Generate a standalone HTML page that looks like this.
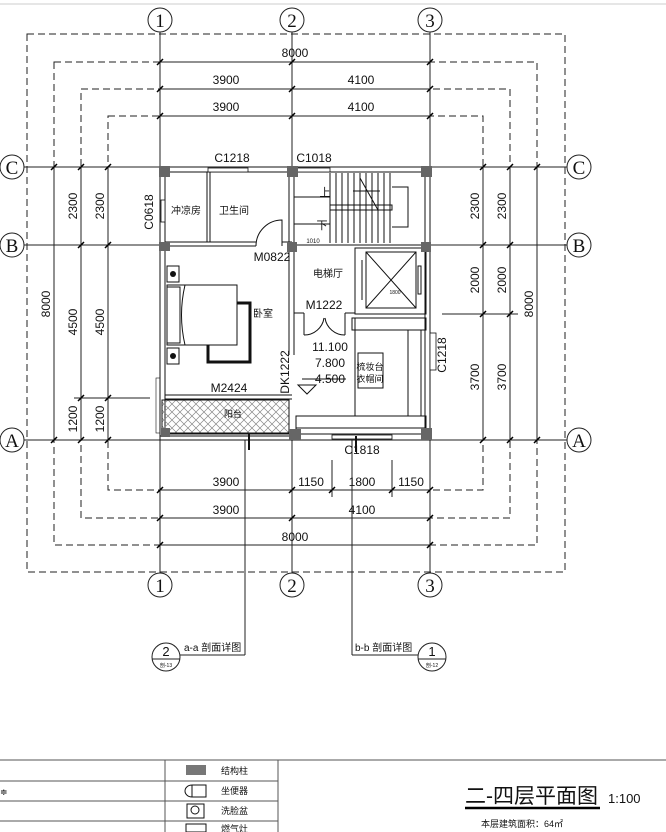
<!DOCTYPE html>
<html><head><meta charset="utf-8"><style>
html,body{margin:0;padding:0;background:#fff}
svg{display:block}
text{font-family:"Liberation Sans","Noto Sans CJK SC",sans-serif;fill:#111}
.ser{font-family:"Liberation Serif",serif}
.nar{font-family:"Liberation Sans Narrow","Liberation Sans",sans-serif}
</style></head><body>
<svg width="666" height="832" viewBox="0 0 666 832" xmlns="http://www.w3.org/2000/svg">
<defs>
<pattern id="hat" width="8" height="8" patternUnits="userSpaceOnUse">
<path d="M0 0L8 8M8 0L0 8" stroke="#888" stroke-width="0.7"/>
</pattern>
</defs>
<line x1="0" y1="4" x2="666" y2="4" stroke="#ccc"/>
<g fill="none" stroke="#222" stroke-width="1" stroke-dasharray="7,4">
<rect x="27" y="34" width="538" height="538"/>
<rect x="54" y="62" width="483" height="483"/>
<rect x="81" y="89" width="429" height="429"/>
<rect x="108" y="116" width="375" height="374"/>
</g>
<g stroke="#222" stroke-width="1">
<line x1="160" y1="32" x2="160" y2="573"/>
<line x1="292" y1="32" x2="292" y2="573"/>
<line x1="430" y1="32" x2="430" y2="573"/>
<line x1="24" y1="167" x2="567" y2="167"/>
<line x1="24" y1="245" x2="567" y2="245"/>
<line x1="24" y1="440" x2="567" y2="440"/>
<line x1="160" y1="62" x2="430" y2="62"/>
<line x1="160" y1="89" x2="430" y2="89"/>
<line x1="160" y1="116" x2="430" y2="116"/>
<line x1="160" y1="490" x2="430" y2="490"/>
<line x1="160" y1="518" x2="430" y2="518"/>
<line x1="160" y1="545" x2="430" y2="545"/>
<line x1="54" y1="167" x2="54" y2="440"/>
<line x1="81" y1="167" x2="81" y2="440"/>
<line x1="108" y1="167" x2="108" y2="440"/>
<line x1="483" y1="167" x2="483" y2="440"/>
<line x1="510" y1="167" x2="510" y2="440"/>
<line x1="537" y1="167" x2="537" y2="440"/>
<line x1="74" y1="398" x2="150" y2="398"/>
<line x1="442" y1="314" x2="518" y2="314"/>
<line x1="332" y1="460" x2="332" y2="497"/>
<line x1="392" y1="460" x2="392" y2="497"/>
<line x1="245" y1="435" x2="245" y2="655"/>
<line x1="245" y1="655" x2="180" y2="655"/>
<line x1="352" y1="435" x2="352" y2="655"/>
<line x1="352" y1="655" x2="418" y2="655"/>
</g>
<g stroke="#000" stroke-width="1.5">
<path d="M157 65l6-6M289 65l6-6M427 65l6-6M157 92l6-6M289 92l6-6M427 92l6-6M157 119l6-6M289 119l6-6M427 119l6-6"/>
<path d="M157 493l6-6M289 493l6-6M329 493l6-6M389 493l6-6M427 493l6-6M157 521l6-6M289 521l6-6M427 521l6-6M157 548l6-6M427 548l6-6"/>
<path d="M51 170l6-6M51 443l6-6M78 170l6-6M78 248l6-6M78 401l6-6M78 443l6-6M105 170l6-6M105 248l6-6M105 401l6-6M105 443l6-6"/>
<path d="M480 170l6-6M480 248l6-6M480 317l6-6M480 443l6-6M507 170l6-6M507 248l6-6M507 317l6-6M507 443l6-6M534 170l6-6M534 443l6-6"/>
</g>
<g fill="#fff" stroke="#222" stroke-width="1">
<circle cx="160" cy="20" r="12"/><circle cx="292" cy="20" r="12"/><circle cx="430" cy="20" r="12"/>
<circle cx="160" cy="585" r="12"/><circle cx="292" cy="585" r="12"/><circle cx="430" cy="585" r="12"/>
<circle cx="12" cy="167" r="12"/><circle cx="12" cy="245" r="12"/><circle cx="12" cy="440" r="12"/>
<circle cx="579" cy="167" r="12"/><circle cx="579" cy="245" r="12"/><circle cx="579" cy="440" r="12"/>
</g>
<g class="ser" font-size="19" text-anchor="middle">
<text class="ser" x="160" y="27">1</text><text class="ser" x="292" y="27">2</text><text class="ser" x="430" y="27">3</text>
<text class="ser" x="160" y="592">1</text><text class="ser" x="292" y="592">2</text><text class="ser" x="430" y="592">3</text>
<text class="ser" x="12" y="174">C</text><text class="ser" x="12" y="252">B</text><text class="ser" x="12" y="447">A</text>
<text class="ser" x="579" y="174">C</text><text class="ser" x="579" y="252">B</text><text class="ser" x="579" y="447">A</text>
</g>
<g font-size="12" text-anchor="middle">
<text class="nar" x="295" y="57">8000</text>
<text class="nar" x="226" y="84">3900</text><text class="nar" x="361" y="84">4100</text>
<text class="nar" x="226" y="111">3900</text><text class="nar" x="361" y="111">4100</text>
<text class="nar" x="226" y="486">3900</text><text class="nar" x="311" y="486">1150</text><text class="nar" x="362" y="486">1800</text><text class="nar" x="411" y="486">1150</text>
<text class="nar" x="226" y="514">3900</text><text class="nar" x="362" y="514">4100</text>
<text class="nar" x="295" y="541">8000</text>
<text class="nar" transform="translate(50,304) rotate(-90)">8000</text>
<text class="nar" transform="translate(77,206) rotate(-90)">2300</text>
<text class="nar" transform="translate(104,206) rotate(-90)">2300</text>
<text class="nar" transform="translate(77,322) rotate(-90)">4500</text>
<text class="nar" transform="translate(104,322) rotate(-90)">4500</text>
<text class="nar" transform="translate(77,419) rotate(-90)">1200</text>
<text class="nar" transform="translate(104,419) rotate(-90)">1200</text>
<text class="nar" transform="translate(479,206) rotate(-90)">2300</text>
<text class="nar" transform="translate(506,206) rotate(-90)">2300</text>
<text class="nar" transform="translate(479,280) rotate(-90)">2000</text>
<text class="nar" transform="translate(506,280) rotate(-90)">2000</text>
<text class="nar" transform="translate(533,304) rotate(-90)">8000</text>
<text class="nar" transform="translate(479,377) rotate(-90)">3700</text>
<text class="nar" transform="translate(506,377) rotate(-90)">3700</text>
</g>
<rect x="160" y="167" width="270" height="273" fill="#fff" stroke="none"/>
<g fill="none" stroke="#111" stroke-width="1">
<rect x="160" y="167" width="270" height="273"/>
<rect x="165" y="172" width="260" height="262"/>
<line x1="207" y1="172" x2="207" y2="242"/><line x1="210" y1="172" x2="210" y2="242"/>
<line x1="165" y1="242" x2="256" y2="242"/><line x1="165" y1="246" x2="256" y2="246"/>
<line x1="282" y1="242" x2="292" y2="242"/>
<line x1="289" y1="172" x2="289" y2="355"/><line x1="294" y1="172" x2="294" y2="355"/>
<line x1="294" y1="245" x2="426" y2="245"/>
<path d="M256 246 A26 26 0 0 1 282 220 L282 246"/>
<line x1="165" y1="395" x2="292" y2="395"/><line x1="165" y1="399" x2="292" y2="399"/>
<rect x="330" y="205" width="62" height="5"/>
<line x1="294" y1="197" x2="330" y2="197"/>
<line x1="294" y1="224" x2="330" y2="224"/>
<path d="M330 173V243M336 173V243M342 173V243M348 173V243M354 173V243M360 173V243M366 173V243M372 173V243M378 173V243M384 173V243M390 173V243"/>
<path d="M392 187H408V227H392"/>
<path d="M360 178L378 210M353 191H380"/>
<rect x="355" y="248" width="71" height="66"/>
<rect x="366" y="252" width="50" height="56"/>
<path d="M366 252L416 308M416 252L366 308"/>
<rect x="418" y="266" width="3" height="28"/>
<line x1="362" y1="260" x2="362" y2="300"/>
<path d="M304 313V335M345 313V335M294 313H304M345 313H355"/>
<path d="M304 335A20 20 0 0 0 324 318M345 335A20 20 0 0 1 325 318"/>
<rect x="352" y="318" width="74" height="12"/>
<rect x="408" y="330" width="13" height="86"/>
<rect x="296" y="416" width="130" height="12"/>
<line x1="355" y1="318" x2="355" y2="416"/>
<line x1="296" y1="416" x2="296" y2="434"/>
<rect x="358" y="353" width="25" height="35"/>
<rect x="167" y="285" width="70" height="60" fill="#fff"/>
<rect x="167" y="287" width="13" height="56"/>
<path d="M185 285Q178 315 185 345"/>
<rect x="167" y="266" width="12" height="16"/><rect x="167" y="348" width="12" height="16"/>
<path d="M237 303H250V362H208V345" stroke-width="3"/>
<path d="M298 385H316L307 394Z"/>
<line x1="302" y1="379" x2="346" y2="379"/>
</g>
<circle cx="173" cy="274" r="3" fill="#111"/><circle cx="173" cy="356" r="3" fill="#111"/>
<g fill="#fff" stroke="#111" stroke-width="0.8">
<rect x="208" y="168" width="40" height="4"/>
<rect x="297" y="168" width="33" height="4"/>
<rect x="161" y="200" width="4" height="22"/>
<rect x="430" y="333" width="6" height="37"/>
<rect x="332" y="435" width="60" height="4"/>
</g>
<rect x="162" y="400" width="127" height="33" fill="url(#hat)" stroke="#111" stroke-width="1"/>
<line x1="160" y1="436" x2="292" y2="436" stroke="#111"/>
<rect x="156" y="378" width="4" height="55" fill="none" stroke="#111" stroke-width="0.6"/>
<line x1="249" y1="433" x2="249" y2="450" stroke="#111" stroke-width="2"/>
<line x1="356" y1="436" x2="356" y2="452" stroke="#111" stroke-width="2"/>
<g fill="#666">
<rect x="159" y="166" width="11" height="11"/><rect x="287" y="166" width="11" height="11"/><rect x="421" y="166" width="11" height="11"/>
<rect x="159" y="242" width="11" height="9"/><rect x="287" y="242" width="10" height="10"/><rect x="421" y="242" width="10" height="10"/>
<rect x="161" y="428" width="9" height="9"/><rect x="289" y="429" width="12" height="11"/><rect x="421" y="428" width="11" height="12"/>
</g>
<g font-size="10" text-anchor="middle">
<text x="186" y="214">冲凉房</text>
<text x="234" y="214">卫生间</text>
<text x="328" y="277">电梯厅</text>
<text x="263" y="317">卧室</text>
<text x="233" y="417" font-size="9" fill="#333">阳台</text>
<text x="370" y="370" font-size="9">梳妆台</text>
<text x="370" y="382" font-size="9">衣帽间</text>
</g>
<g font-size="12" text-anchor="middle">
<text class="nar" x="232" y="162">C1218</text>
<text class="nar" x="314" y="162">C1018</text>
<text class="nar" x="272" y="261">M0822</text>
<text class="nar" x="324" y="309">M1222</text>
<text class="nar" x="330" y="351">11.100</text>
<text class="nar" x="330" y="367">7.800</text>
<text class="nar" x="330" y="383">4.500</text>
<text class="nar" x="229" y="392">M2424</text>
<text class="nar" x="362" y="454">C1818</text>
<text class="nar" transform="translate(153,212) rotate(-90)">C0618</text>
<text class="nar" transform="translate(446,355) rotate(-90)">C1218</text>
<text class="nar" transform="translate(289,372) rotate(-90)">DK1222</text>
</g>
<text x="325" y="196" font-size="11" text-anchor="middle">上</text>
<text x="322" y="229" font-size="11" text-anchor="middle">下</text>
<text x="313" y="243" font-size="6" text-anchor="middle">1010</text>
<text x="395" y="294" font-size="5" text-anchor="middle">1800</text>
<g fill="#fff" stroke="#222" stroke-width="1">
<circle cx="166" cy="657" r="14"/><circle cx="432" cy="657" r="14"/>
<line x1="152" y1="659" x2="180" y2="659"/><line x1="418" y1="659" x2="446" y2="659"/>
</g>
<text x="166" y="656" font-size="13" text-anchor="middle">2</text>
<text x="166" y="667" font-size="5" text-anchor="middle">剖-13</text>
<text x="432" y="656" font-size="13" text-anchor="middle">1</text>
<text x="432" y="667" font-size="5" text-anchor="middle">剖-12</text>
<text x="184" y="651" font-size="10">a-a 剖面详图</text>
<text x="355" y="651" font-size="10">b-b 剖面详图</text>
<g stroke="#555" stroke-width="1" fill="none">
<line x1="0" y1="760" x2="666" y2="760"/>
<line x1="0" y1="781" x2="278" y2="781"/>
<line x1="0" y1="801" x2="278" y2="801"/>
<line x1="0" y1="821" x2="278" y2="821"/>
<line x1="165" y1="760" x2="165" y2="832"/>
<line x1="278" y1="760" x2="278" y2="832"/>
</g>
<rect x="186" y="765" width="20" height="10" fill="#777"/>
<path d="M192 785H206V797H192ZM192 785A7 6 0 0 0 192 797" fill="none" stroke="#111"/>
<rect x="187" y="804" width="17" height="14" fill="none" stroke="#111"/>
<circle cx="195" cy="810" r="4" fill="none" stroke="#111"/>
<rect x="186" y="824" width="20" height="8" fill="none" stroke="#111"/>
<g font-size="9">
<text x="221" y="774">结构柱</text>
<text x="221" y="794">坐便器</text>
<text x="221" y="814">洗脸盆</text>
<text x="221" y="832">燃气灶</text>
</g>
<text x="0" y="795" font-size="9">≑</text>
<text x="465" y="803" font-size="21">二-四层平面图</text>
<line x1="465" y1="808" x2="600" y2="808" stroke="#000" stroke-width="2.5"/>
<text x="608" y="803" font-size="13">1:100</text>
<text x="481" y="827" font-size="9">本层建筑面积：64㎡</text>
</svg>
</body></html>
